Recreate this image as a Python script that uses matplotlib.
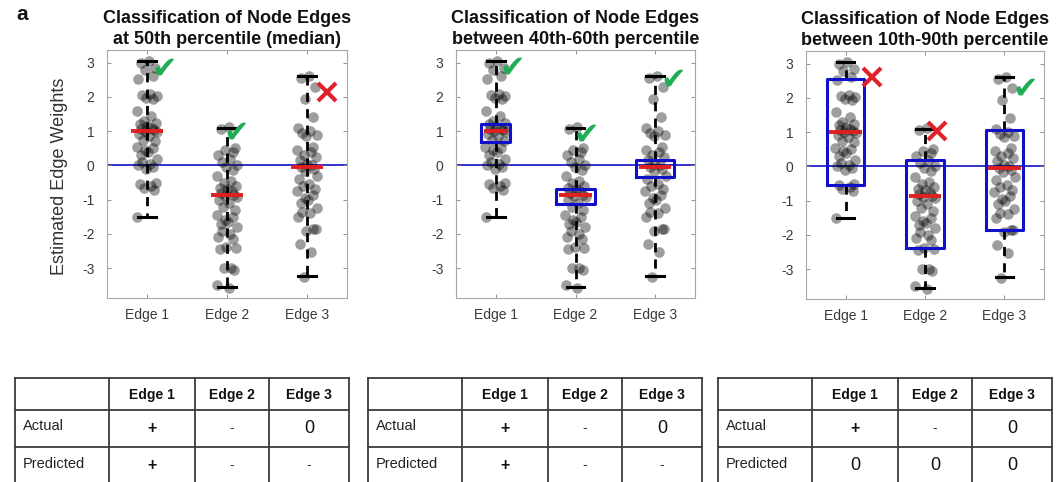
import matplotlib
matplotlib.use('Agg')
import matplotlib.pyplot as plt

plt.rcParams['font.family'] = ['Liberation Sans', 'DejaVu Sans']

# ---------------- data ----------------
categories = ['Edge 1', 'Edge 2', 'Edge 3']
titles = ['Classification of Node Edges\nat 50th percentile (median)',
          'Classification of Node Edges\nbetween 40th-60th percentile',
          'Classification of Node Edges\nbetween 10th-90th percentile']

edge1_weights = [3.05, 3.0, 2.85, 2.78, 2.62, 2.52, 2.1, 2.05, 2.02, 1.98, 1.95, 1.6, 1.45,
                 1.3, 1.25, 1.2, 1.15, 1.1, 1.05, 1.02, 1.0, 0.97, 0.92, 0.85, 0.75, 0.7,
                 0.55, 0.5, 0.45, 0.4, 0.3, 0.2, 0.1, 0.05, 0.0, -0.05, -0.1, -0.5, -0.55,
                 -0.6, -0.65, -0.72, -1.5]
edge2_weights = [1.12, 1.05, 0.5, 0.45, 0.38, 0.3, 0.2, 0.1, 0.02, -0.05, -0.12, -0.3, -0.45,
                 -0.52, -0.6, -0.65, -0.7, -0.75, -0.8, -0.85, -0.88, -0.92, -1.0, -1.1, -1.2,
                 -1.3, -1.45, -1.5, -1.6, -1.65, -1.72, -1.8, -1.9, -2.0, -2.1, -2.15, -2.38,
                 -2.42, -2.45, -2.98, -3.0, -3.05, -3.5, -3.57]
edge3_weights = [2.62, 2.55, 2.3, 1.95, 1.4, 1.1, 1.0, 0.95, 0.9, 0.85, 0.55, 0.45, 0.4, 0.3,
                 0.25, 0.15, 0.05, 0.0, -0.05, -0.1, -0.15, -0.3, -0.4, -0.55, -0.6, -0.7,
                 -0.75, -0.85, -0.95, -1.0, -1.1, -1.25, -1.35, -1.4, -1.5, -1.85, -1.9,
                 -1.87, -2.3, -2.52, -3.25]
jitter = [0.02, -0.08, 0.10, -0.03, 0.07, -0.11, 0.04, -0.06, 0.12, -0.01, 0.08, -0.12, 0.05,
          -0.04, 0.11, -0.09, 0.00, 0.06, -0.07, 0.09, -0.02, 0.13, -0.10, 0.03, -0.05, 0.10,
          -0.13, 0.07, -0.03, 0.01, -0.08, 0.12, -0.06, 0.04, -0.11, 0.08, -0.01, 0.11, -0.09,
          0.05, -0.04, 0.09, -0.12, 0.02, 0.06]

medians = [1.0, -0.87, -0.05]
whisker_hi = [3.05, 1.1, 2.6]
whisker_lo = [-1.5, -3.55, -3.22]
box40_lo = [0.67, -1.12, -0.35]
box40_hi = [1.2, -0.7, 0.17]
box10_lo = [-0.55, -2.39, -1.87]
box10_hi = [2.54, 0.2, 1.05]
box40_width = [0.36, 0.48, 0.47]
box10_width = [0.47, 0.47, 0.47]

# verdict marks: (kind, x, y)
marks = [
    [('check', 1.21, 2.82), ('check', 2.11, 0.95), ('cross', 3.25, 2.13)],
    [('check', 1.21, 2.85), ('check', 2.14, 0.9), ('check', 3.23, 2.5)],
    [('cross', 1.33, 2.62), ('cross', 2.15, 1.02), ('check', 3.26, 2.25)],
]

table_header = ['', 'Edge 1', 'Edge 2', 'Edge 3']
row_labels = ['Actual', 'Predicted']
table_values = [
    [['+', '-', '0'], ['+', '-', '-']],
    [['+', '-', '0'], ['+', '-', '-']],
    [['+', '-', '0'], ['0', '0', '0']],
]

# ---------------- layout ----------------
W, H = 1060, 482
fig = plt.figure(figsize=(W / 100, H / 100), dpi=100)


def px_axes(left, top, right, bottom):
    return fig.add_axes([left / W, 1 - bottom / H, (right - left) / W, (bottom - top) / H])


panel_px = [(107, 50, 347, 298), (456, 50, 695, 298), (806, 51, 1044, 299)]
table_left = [15, 368, 718]
col_w = [94, 86, 74, 80]
row_h = [32, 37, 37]

GREEN = '#1fad55'
RED = '#e0202a'
BLUE = '#1010c8'

all_weights = [edge1_weights, edge2_weights, edge3_weights]

for p in range(3):
    ax = px_axes(*panel_px[p])
    ax.set_xlim(0.5, 3.5)
    ax.set_ylim(-3.87, 3.37)
    ax.axhline(0, color=BLUE, lw=1.2, zorder=1)
    for i in range(3):
        xc = i + 1
        if p == 0:
            lo_b, hi_b, bw = medians[i], medians[i], 0.41
        elif p == 1:
            lo_b, hi_b, bw = box40_lo[i], box40_hi[i], box40_width[i]
        else:
            lo_b, hi_b, bw = box10_lo[i], box10_hi[i], box10_width[i]
        ax.plot([xc, xc], [hi_b, whisker_hi[i]], color='black', lw=2.0,
                dashes=(3.3, 2.6), solid_capstyle='butt', zorder=2)
        ax.plot([xc, xc], [lo_b, whisker_lo[i]], color='black', lw=2.0,
                dashes=(3.3, 2.6), solid_capstyle='butt', zorder=2)
        ax.plot([xc - 0.11, xc + 0.11], [whisker_hi[i]] * 2, color='black', lw=2.2, zorder=2)
        ax.plot([xc - 0.11, xc + 0.11], [whisker_lo[i]] * 2, color='black', lw=2.2, zorder=2)
        vals = all_weights[i]
        xs = [xc + jitter[k % len(jitter)] for k in range(len(vals))]
        ax.scatter(xs, vals, s=58, color='black', alpha=0.38, linewidths=0, zorder=3)
        if p > 0:
            ax.plot([xc - bw / 2, xc + bw / 2, xc + bw / 2, xc - bw / 2, xc - bw / 2],
                    [lo_b, lo_b, hi_b, hi_b, lo_b], color=BLUE, lw=2.2, zorder=4)
            mw = bw - 0.06
        else:
            mw = bw
        ax.plot([xc - mw / 2, xc + mw / 2], [medians[i]] * 2, color='#e02020', lw=2.8,
                solid_capstyle='butt', zorder=5)
    for kind, mx, my in marks[p]:
        if kind == 'check':
            ax.text(mx, my, '\u2714', color=GREEN, fontsize=22, ha='center', va='center',
                    family='DejaVu Sans', zorder=6)
        else:
            ax.plot([mx], [my], marker='x', markersize=13, mew=3, color=RED, zorder=6)

    ax.set_xticks([1, 2, 3])
    ax.set_xticklabels(categories)
    ax.set_yticks([-3, -2, -1, 0, 1, 2, 3])
    ax.set_yticklabels(['-3', '-2', '-1', '0', '1', '2', '3'])
    ax.tick_params(direction='in', length=3, width=0.6, color='#808080',
                   top=True, right=True, labelsize=10, labelcolor='#3a3a3a')
    ax.tick_params(axis='y', pad=9)
    ax.tick_params(axis='x', pad=7)
    for s in ax.spines.values():
        s.set_color('#a8a8a8')
        s.set_linewidth(0.8)
    ax.set_title(titles[p], fontsize=13, fontweight='bold', pad=4, linespacing=1.35,
                 color='#111111')

fig.text(59 / W, 1 - 176 / H, 'Estimated Edge Weights', rotation=90, ha='center',
         va='center', fontsize=13, color='#333333')
fig.text(22 / W, 1 - 15 / H, 'a', ha='center', va='center', fontsize=15,
         fontweight='bold', color='#111111')

# ---------------- tables ----------------
LINE = '#3c3c3c'
total_w = sum(col_w)
total_h = sum(row_h)
for p in range(3):
    left = table_left[p]
    tax = px_axes(left, 378, left + total_w, 378 + total_h)
    tax.set_xlim(0, total_w)
    tax.set_ylim(total_h, 0)
    tax.axis('off')
    xs_edges = [0]
    for w in col_w:
        xs_edges.append(xs_edges[-1] + w)
    ys_edges = [0]
    for h in row_h:
        ys_edges.append(ys_edges[-1] + h)
    for x in xs_edges:
        tax.plot([x, x], [0, total_h], color=LINE, lw=1.3, clip_on=False)
    for y in ys_edges:
        tax.plot([0, total_w], [y, y], color=LINE, lw=1.3, clip_on=False)
    for c in range(1, 4):
        cx = (xs_edges[c] + xs_edges[c + 1]) / 2
        tax.text(cx, row_h[0] / 2 + 1, table_header[c], ha='center', va='center',
                 fontsize=10, fontweight='bold', color='#111111')
    for r in range(2):
        cy = (ys_edges[r + 1] + ys_edges[r + 2]) / 2
        tax.text(8, cy - 2, row_labels[r], ha='left', va='center', fontsize=10.5,
                 color='#222222')
        for c in range(3):
            cx = (xs_edges[c + 1] + xs_edges[c + 2]) / 2
            v = table_values[p][r][c]
            if v == '0':
                tax.text(cx, cy, v, ha='center', va='center', fontsize=13,
                         color='#111111')
            elif v == '+':
                tax.text(cx, cy, v, ha='center', va='center', fontsize=11.5,
                         fontweight='bold', color='#111111')
            else:
                tax.text(cx, cy, v, ha='center', va='center', fontsize=10,
                         color='#333333')

fig.savefig('out.png', dpi=100)
